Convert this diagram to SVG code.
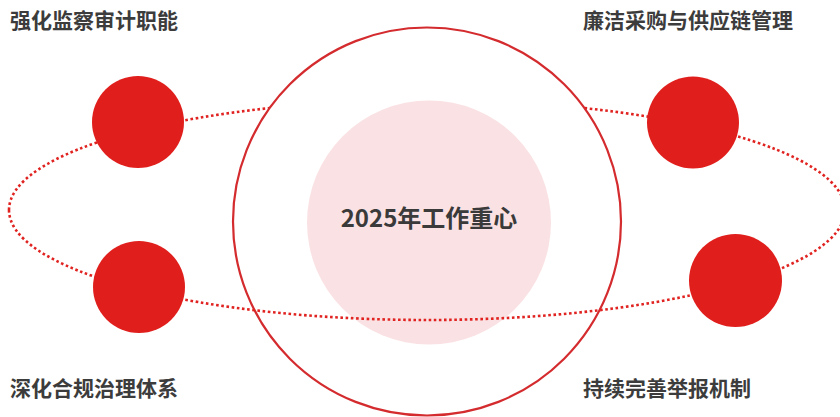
<svg xmlns="http://www.w3.org/2000/svg" width="840" height="417" viewBox="0 0 840 417">
<style>
.lbl{font-family:"Noto Sans CJK SC","Noto Sans",sans-serif;font-weight:700;font-size:21px;fill:#3c3c3c}
.orbit{fill:none;stroke:#e02320;stroke-width:2.6;stroke-dasharray:2.6 2.6}
.dot{fill:#e01f1d}
</style>
<rect width="840" height="417" fill="#ffffff"/>
<g id="connectors">
<path class="orbit" d="M 9 210 A 418 110 0 0 1 845 210"/>
</g>
<g id="core">
<circle cx="427" cy="221.5" r="194" fill="#ffffff" stroke="#d42b2e" stroke-width="2.2"/>
<circle cx="429" cy="222.5" r="122" fill="#fae2e4"/>
<text x="429" y="227" text-anchor="middle" style="font-family:'Noto Sans CJK SC','Noto Sans',sans-serif;font-weight:700;font-size:24px;fill:#3a3a3a">2025年工作重心</text>
</g>
<g id="connectors-front">
<path class="orbit" d="M 9 210 A 418 110 0 0 0 845 210"/>
</g>
<g id="node-tl">
<circle class="dot" cx="138" cy="122" r="46"/>
<text class="lbl" x="10" y="28">强化监察审计职能</text>
</g>
<g id="node-tr">
<circle class="dot" cx="693" cy="122.5" r="46"/>
<text class="lbl" x="583" y="28">廉洁采购与供应链管理</text>
</g>
<g id="node-bl">
<circle class="dot" cx="139" cy="287" r="46"/>
<text class="lbl" x="10" y="396">深化合规治理体系</text>
</g>
<g id="node-br">
<circle class="dot" cx="735.5" cy="280.5" r="46.5"/>
<text class="lbl" x="583" y="396">持续完善举报机制</text>
</g>
</svg>
